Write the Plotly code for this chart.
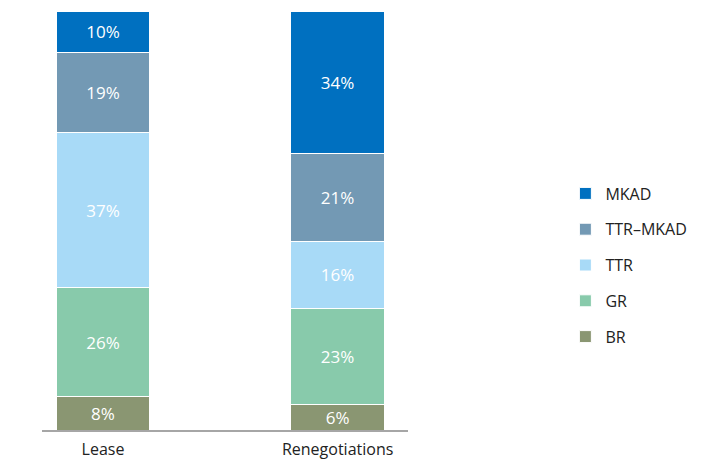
import plotly.graph_objects as go

categories = ["Lease", "Renegotiations"]
series_names = ["BR", "GR", "TTR", "TTR\u2013MKAD", "MKAD"]
br = [8, 6]
gr = [26, 23]
ttr = [37, 16]
ttr_mkad = [19, 21]
mkad = [10, 34]
colors = ["#8A9672", "#88CAAB", "#A8DAF7", "#7399B4", "#0070C0"]

values = [br, gr, ttr, ttr_mkad, mkad]
xpos = list(range(len(categories)))

fig = go.Figure()
n = len(series_names)
for i, (name, vals, col) in enumerate(zip(series_names, values, colors)):
    fig.add_trace(go.Bar(
        x=xpos, y=vals, name=name, legendgroup=name, legendrank=n - i,
        marker=dict(color=col, line=dict(color="white", width=1)),
        text=[f"{v}%" for v in vals], textposition="inside",
        insidetextanchor="middle", constraintext="none",
        textfont=dict(color="white", size=17, family="Open Sans"),
        width=0.40, hoverinfo="skip",
    ))

fig.update_layout(
    barmode="stack",
    width=704, height=461,
    margin=dict(l=42, r=296, t=11, b=31, autoexpand=False),
    paper_bgcolor="white", plot_bgcolor="white",
    font=dict(family="Open Sans", size=16, color="#222222"),
    legend=dict(x=1.43, y=0.605, xanchor="left", yanchor="top",
                traceorder="grouped", tracegroupgap=12,
                font=dict(size=16, color="#222222")),
)
fig.update_xaxes(
    tickmode="array", tickvals=xpos, ticktext=categories,
    range=[-0.26, 1.30], showgrid=False, zeroline=False,
    showline=True, linecolor="#A6A6A6", linewidth=2,
    ticks="outside", ticklen=4, tickcolor="rgba(0,0,0,0)",
    tickfont=dict(size=16, color="#222222"), automargin=False,
)
fig.update_yaxes(range=[0, 100], visible=False, showgrid=False, zeroline=False)

fig.write_html("out.html")
